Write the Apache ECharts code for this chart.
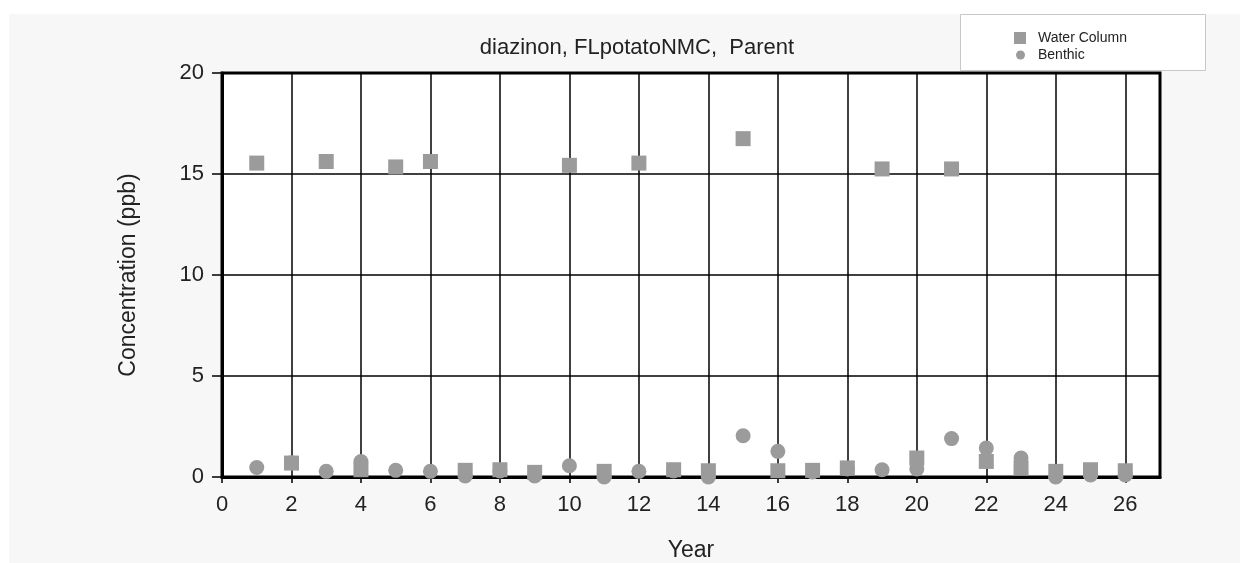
<!DOCTYPE html>
<html><head><meta charset="utf-8">
<script src="https://cdn.jsdelivr.net/npm/echarts@6/dist/echarts.min.js"></script>
<style>html,body{margin:0;padding:0;background:#fff}#c{width:1247px;height:563px}</style>
</head><body><div id="c"></div>
<script>
var years = [1,2,3,4,5,6,7,8,9,10,11,12,13,14,15,16,17,18,19,20,21,22,23,24,25,26];
var waterColumn = [15.54,0.69,15.62,0.36,15.35,15.62,0.33,0.36,0.23,15.43,0.28,15.54,0.36,0.31,16.75,0.31,0.33,0.45,15.25,0.94,15.25,0.77,0.45,0.28,0.36,0.31];
var benthic = [0.47,0.7,0.28,0.77,0.33,0.28,0.05,0.3,0.05,0.56,0.0,0.28,0.3,0.0,2.04,1.27,0.25,0.4,0.36,0.4,1.9,1.43,0.94,0.0,0.1,0.1];
var title = 'diazinon, FLpotatoNMC,  Parent';

var chart = echarts.init(document.getElementById('c'));
var font = 'Liberation Sans, Arial, sans-serif';
chart.setOption({
  animation: false,
  backgroundColor: '#ffffff',
  graphic: [
    {type:'rect', z:-10, shape:{x:9,y:14,width:1231,height:549}, style:{fill:'#f7f7f7'}, silent:true},
    {type:'rect', z:-5, shape:{x:222,y:73,width:938,height:404}, style:{fill:'#ffffff'}, silent:true},
    {type:'rect', z:10, shape:{x:960.5,y:14.5,width:245,height:56}, style:{fill:'#ffffff', stroke:'#c8c8c8', lineWidth:1}, silent:true}
  ],
  title: {text: title, left: 632, top: 32, textAlign:'center',
    textStyle:{fontFamily:font, fontSize:22, fontWeight:'normal', color:'#222'}},
  legend: [{
    left: 1009, top: 26, z: 20, itemWidth: 12, itemHeight: 12,
    textStyle:{fontFamily:font, fontSize:14, color:'#222', padding:[0,0,0,7]},
    data:[{name:'Water Column', icon:'rect'}]
  },{
    left: 1011, top: 43, z: 20, itemWidth: 9, itemHeight: 9,
    textStyle:{fontFamily:font, fontSize:14, color:'#222', padding:[0,0,0,8]},
    data:[{name:'Benthic', icon:'circle'}]
  }],
  grid: {left:222, right:87, top:73, bottom:86, outerBoundsMode:'none', containLabel:false,
    show:true, borderColor:'#000', borderWidth:3, backgroundColor:'transparent'},
  xAxis: {
    type:'value', min:0, max:27, interval:2,
    name:'Year', nameLocation:'middle', nameGap:62,
    nameTextStyle:{fontFamily:font, fontSize:23, color:'#222'},
    axisLine:{show:true, lineStyle:{color:'#000', width:3}},
    axisTick:{show:true, length:6, lineStyle:{color:'#000', width:1.5}},
    axisLabel:{fontFamily:font, fontSize:22, color:'#222', margin:17, showMaxLabel:false},
    splitLine:{show:true, lineStyle:{color:'#000', width:1.5}}
  },
  yAxis: {
    type:'value', min:0, max:20, interval:5,
    name:'Concentration (ppb)', nameLocation:'middle', nameGap:82,
    nameTextStyle:{fontFamily:font, fontSize:23, color:'#222'},
    axisLine:{show:true, lineStyle:{color:'#000', width:3}},
    axisTick:{show:true, length:10, lineStyle:{color:'#000', width:1.5}},
    axisLabel:{fontFamily:font, fontSize:22, color:'#222', margin:18},
    splitLine:{show:true, lineStyle:{color:'#000', width:1.5}}
  },
  series: [
    {name:'Benthic', type:'scatter', symbol:'circle', symbolSize:15,
     itemStyle:{color:'#9b9b9b', opacity:1}, data: years.map(function(x,i){return [x, benthic[i]];})},
    {name:'Water Column', type:'scatter', symbol:'rect', symbolSize:15,
     itemStyle:{color:'#9b9b9b', opacity:1}, data: years.map(function(x,i){return [x, waterColumn[i]];})}
  ]
});
</script></body></html>
